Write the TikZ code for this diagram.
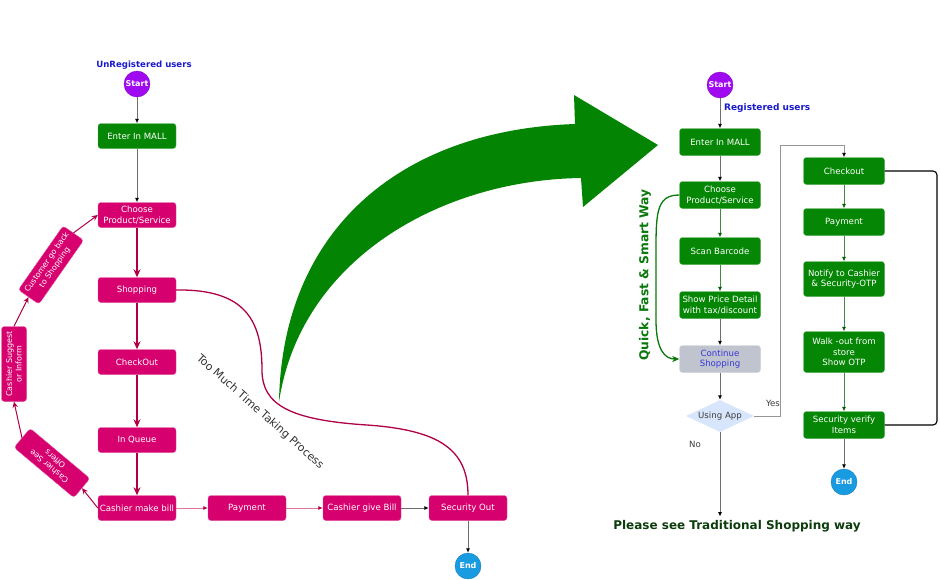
\documentclass[tikz,border=0pt]{standalone}
\usepackage{fontspec}
\setmainfont{DejaVu Sans}
\usetikzlibrary{arrows.meta,shapes.geometric}

\definecolor{boxgreen}{RGB}{5,135,5}
\definecolor{boxpink}{RGB}{214,0,110}
\definecolor{linkred}{RGB}{175,0,70}
\definecolor{linkpink}{RGB}{225,120,150}
\definecolor{linkgreen}{RGB}{70,135,70}
\definecolor{startpurple}{RGB}{160,10,240}
\definecolor{endblue}{RGB}{25,155,225}
\definecolor{userblue}{RGB}{25,25,205}
\definecolor{contgray}{RGB}{192,196,206}
\definecolor{contblue}{RGB}{55,55,215}
\definecolor{appblue}{RGB}{215,230,252}
\definecolor{bigarrow}{RGB}{3,133,3}
\definecolor{quickgreen}{RGB}{10,120,10}
\definecolor{tradgreen}{RGB}{12,60,12}

\begin{document}
\begin{tikzpicture}[x=1pt,y=-1pt,
  box/.style={rounded corners=3pt,minimum width=78pt,minimum height=25pt,inner sep=1pt,
    align=center,text=white,font=\fontsize{8.6}{10.5}\selectfont},
  pinkbox/.style={box,fill=boxpink,draw=boxpink!70!white},
  greenbox/.style={box,fill=boxgreen,draw=boxgreen!70!white},
  rbox/.style={greenbox,minimum width=81pt,minimum height=27pt},
  startnode/.style={circle,fill=startpurple,draw=startpurple!80!black,minimum size=26pt,inner sep=0pt,
    text=white,font=\fontsize{8}{9}\selectfont\bfseries},
  endnode/.style={startnode,fill=endblue,draw=endblue!80!black},
  userlabel/.style={text=userblue,font=\fontsize{8.6}{10}\selectfont\bfseries,inner sep=1pt},
  graylink/.style={draw={rgb,255:red,110;green,110;blue,110},line width=0.9pt,
    -{Latex[length=4.5pt,width=4pt,color=black]}},
  redlink/.style={draw=linkred,line width=1.3pt,-{Stealth[length=8pt,width=7pt,inset=2.5pt]}},
  cyclelink/.style={draw=linkred,line width=1pt,-{Stealth[length=6pt,width=5.5pt,inset=2pt]}},
  pinklink/.style={draw=linkpink,line width=0.8pt,-{Latex[length=4.5pt,width=4pt,color=linkred]}},
  greenlink/.style={draw=linkgreen,line width=0.7pt,-{Latex[length=4.5pt,width=4pt,color=boxgreen!70!black]}}
]
\useasboundingbox (0,0) rectangle (940,579);

% old way
\node[userlabel] (ulabel) at (144,65) {UnRegistered users};
\node[startnode] (ustart) at (137,84) {Start};
\node[greenbox] (uenter) at (137,136) {Enter In MALL};
\node[pinkbox] (uchoose) at (137,215) {Choose\\Product/Service};
\node[pinkbox] (ushop) at (137,290) {Shopping};
\node[pinkbox] (ucheck) at (137,362) {CheckOut};
\node[pinkbox] (uqueue) at (137,440) {In Queue};
\node[pinkbox] (umake) at (137,508) {Cashier make bill};
\node[pinkbox] (upay) at (247,508) {Payment};
\node[pinkbox] (ugive) at (362,508) {Cashier give Bill};
\node[pinkbox] (usec) at (468,508) {Security Out};
\node[endnode] (uend) at (468,566) {End};
\node[pinkbox,rotate=140,font=\fontsize{8}{9.5}\selectfont] (uoffers) at (52,463) {Cashier See\\Offers};
\node[pinkbox,rotate=90,minimum width=75pt,font=\fontsize{8}{9.5}\selectfont] (usuggest) at (14,364) {Cashier Suggest\\or Inform};
\node[pinkbox,rotate=55,font=\fontsize{7.8}{9.5}\selectfont] (uback) at (51,265) {Customer go back\\to Shopping};
\node[rotate=-41.5,text={rgb,255:red,50;green,50;blue,50},font=\fontsize{11}{13}\selectfont] (utoomuch) at (260,412) {Too Much Time Taking Process};

\draw[graylink] (ustart) -- (uenter);
\draw[graylink] (uenter) -- (uchoose);
\draw[redlink] (uchoose) -- (ushop);
\draw[redlink] (ushop) -- (ucheck);
\draw[redlink] (ucheck) -- (uqueue);
\draw[redlink] (uqueue) -- (umake);
\draw[pinklink] (umake) -- (upay);
\draw[pinklink] (upay) -- (ugive);
\draw[graylink] (ugive) -- (usec);
\draw[graylink] (usec) -- (uend);
\draw[cyclelink] (umake.west) -- (uoffers.west);
\draw[cyclelink] (uoffers.east) -- (usuggest.west);
\draw[cyclelink] (usuggest.east) -- (uback.west);
\draw[cyclelink] (uback.east) -- (uchoose.west);
\draw[draw=linkred,line width=1.3pt] (ushop.east) .. controls (245,289) and (262,320) .. (262,370)
  .. controls (262,405) and (290,420) .. (367,425) .. controls (440,430) and (468,450) .. (usec.north);

% big arrow
\fill[bigarrow] (279,402) .. controls (282,230) and (400,130) .. (575,124) -- (574,95) -- (658,145)
  -- (583,207) -- (581,178) .. controls (440,180) and (300,260) .. cycle;

% new way
\node[startnode] (rstart) at (720,85) {Start};
\node[userlabel,anchor=west,font=\fontsize{9}{10}\selectfont\bfseries] (rlabel) at (723,108) {Registered users};
\node[rbox] (renter) at (720,142) {Enter In MALL};
\node[rbox] (rchoose) at (720,195) {Choose\\Product/Service};
\node[rbox] (rscan) at (720,251) {Scan Barcode};
\node[rbox] (rprice) at (720,305) {Show Price Detail\\with tax/discount};
\node[rbox,fill=contgray,draw=contgray!80!white,text=contblue] (rcont) at (720,359) {Continue\\Shopping};
\node[diamond,fill=appblue,minimum width=68pt,minimum height=32pt,aspect=2.1,inner sep=0pt,
  text={rgb,255:red,60;green,60;blue,60},font=\fontsize{8.6}{10}\selectfont] (rapp) at (720,416) {Using App};
\node[rbox] (rcheckout) at (844,171) {Checkout};
\node[rbox] (rpay) at (844,222) {Payment};
\node[rbox,minimum height=35pt] (rnotify) at (844,279) {Notify to Cashier\\\& Security-OTP};
\node[rbox,minimum height=41pt] (rwalk) at (844,352) {Walk -out from\\store\\Show OTP};
\node[rbox] (rverify) at (844,425) {Security verify\\Items};
\node[endnode] (rend) at (844,482) {End};
\node[text=tradgreen,font=\fontsize{12}{14}\selectfont\bfseries] (rtrad) at (737,526) {Please see Traditional Shopping way};
\node[rotate=90,text=quickgreen,font=\fontsize{12.3}{14}\selectfont\bfseries] (rquick) at (645,275) {Quick, Fast \& Smart Way};
\node[text={rgb,255:red,60;green,60;blue,60},font=\fontsize{8.6}{10}\selectfont] (ryes) at (773,403) {Yes};
\node[text={rgb,255:red,60;green,60;blue,60},font=\fontsize{8.6}{10}\selectfont] (rno) at (695,444) {No};
\coordinate (rturn) at (780,145);
\coordinate (rloop) at (937,171);

\draw[graylink] (rstart) -- (renter);
\draw[graylink] (renter) -- (rchoose);
\draw[greenlink] (rchoose) -- (rscan);
\draw[greenlink] (rscan) -- (rprice);
\draw[graylink] (rprice) -- (rcont);
\draw[graylink] (rcont) -- (rapp);
\draw[graylink] (rapp.south) -- (rapp.south |- rtrad.north);
\draw[graylink,draw={rgb,255:red,150;green,150;blue,150}] (rapp.east) -| (rturn) -| (rcheckout.north);
\draw[greenlink] (rcheckout) -- (rpay);
\draw[greenlink] (rpay) -- (rnotify);
\draw[greenlink] (rnotify) -- (rwalk);
\draw[greenlink] (rwalk) -- (rverify);
\draw[graylink] (rverify) -- (rend);
\draw[line width=1.1pt,rounded corners=4pt] (rcheckout.east) -- (rloop) |- (rverify.east);
\draw[draw=quickgreen,line width=1.3pt,-{Stealth[length=7pt,width=6pt,inset=2pt]}] (rchoose.west)
  .. controls (655,195) and (656,215) .. (656,260) -- (656,320) .. controls (656,350) and (665,359) .. (rcont.west);
\end{tikzpicture}
\end{document}
